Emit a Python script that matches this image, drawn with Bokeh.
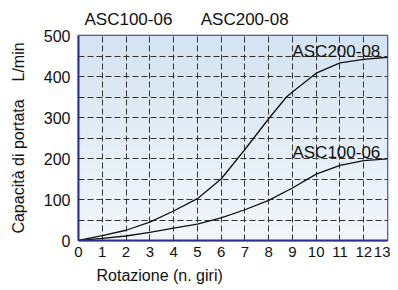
import numpy as np
from bokeh.plotting import figure
from bokeh.models import FixedTicker, Title, Range1d
from bokeh.embed import file_html
from bokeh.resources import INLINE

# data
rot = [0, 1, 2, 3, 4, 5, 6, 7, 8, 8.75, 9, 10, 11, 12, 13]
asc200_08 = [0, 12, 25, 45, 72, 102, 150, 222, 297, 350, 362, 408, 433, 442, 447]
rot_b = [0, 1, 2, 3, 4, 5, 6, 7, 8, 9, 10, 11, 12, 13]
asc100_06 = [0, 5, 11, 20, 30, 40, 55, 75, 98, 128, 162, 183, 195, 199]
x_ticks = list(range(0, 14))
y_ticks = [0, 100, 200, 300, 400, 500]
y_grid = [50, 100, 150, 200, 250, 300, 350, 400, 450]
x_grid = list(range(1, 13))
series_labels = ["ASC200-08", "ASC100-06"]
label_x = [9.0, 9.0]
label_y = [462, 214]

FONT = "Liberation Sans"
BLUE = "#2b2f90"
NB = "\u00a0"

p = figure(frame_width=309, frame_height=205, output_backend="svg", toolbar_location=None,
           x_range=Range1d(0, 13), y_range=Range1d(0, 500),
           min_border_left=78, min_border_right=3, min_border_top=34, min_border_bottom=38)

p.title.text = "ASC100-06" + NB * 6 + "ASC200-08"
p.title.align = "left"
p.title.offset = 6
p.title.text_font = FONT
p.title.text_font_size = "17px"
p.title.text_font_style = "normal"
p.title.text_color = "#111111"
p.title.standoff = 14

# gradient background
ny = 64
grad = np.zeros((ny, 1), dtype=np.uint32)
view = grad.view(dtype=np.uint8).reshape((ny, 1, 4))
top = np.array([213, 228, 242])
bot = np.array([242, 246, 251])
for i in range(ny):
    t = i / (ny - 1)  # 0 bottom, 1 top
    c = bot + (top - bot) * t
    view[i, 0, 0] = int(c[0]); view[i, 0, 1] = int(c[1]); view[i, 0, 2] = int(c[2]); view[i, 0, 3] = 255
p.image_rgba(image=[grad], x=0, y=0, dw=13, dh=500, level="image")

p.background_fill_color = "white"
p.border_fill_color = "white"
p.outline_line_color = BLUE
p.outline_line_width = 1.5

p.xaxis.ticker = FixedTicker(ticks=x_ticks)
p.yaxis.ticker = FixedTicker(ticks=y_ticks)
p.xgrid.ticker = FixedTicker(ticks=x_grid)
p.ygrid.ticker = FixedTicker(ticks=y_grid)
for g in (p.xgrid, p.ygrid):
    g.grid_line_color = "#333333"
    g.grid_line_dash = "6 3"
    g.grid_line_width = 1

for ax in (p.xaxis, p.yaxis):
    ax.axis_line_color = BLUE
    ax.axis_line_width = 2
    ax.major_tick_in = 0
    ax.major_tick_out = 0
    ax.minor_tick_line_color = None
    ax.major_label_text_font = FONT
    ax.major_label_text_font_size = "16px"
    ax.major_label_text_color = "#111111"
    ax.axis_label_text_font = FONT
    ax.axis_label_text_font_size = "16px"
    ax.axis_label_text_font_style = "normal"
    ax.axis_label_text_color = "#111111"

p.xaxis.major_label_text_font_size = "15px"
p.yaxis.axis_label = "Capacità di portata" + NB * 4 + "L/min"
p.yaxis.major_label_standoff = 8
p.yaxis.axis_label_standoff = 14
p.xaxis.major_label_standoff = 6

xt = Title(text="Rotazione (n. giri)", align="left", offset=18, text_font=FONT,
           text_font_size="16px", text_font_style="normal", text_color="#111111", standoff=11)
p.add_layout(xt, "below")

p.line(rot, asc200_08, line_color="#111111", line_width=1.3)
p.line(rot_b, asc100_06, line_color="#111111", line_width=1.3)

p.text(x=label_x, y=label_y, text=series_labels,
       text_font={"value": FONT}, text_font_size={"value": "17px"},
       text_color="#111111", text_baseline="alphabetic", text_align="left")

open("out.html", "w").write(file_html(p, INLINE))
